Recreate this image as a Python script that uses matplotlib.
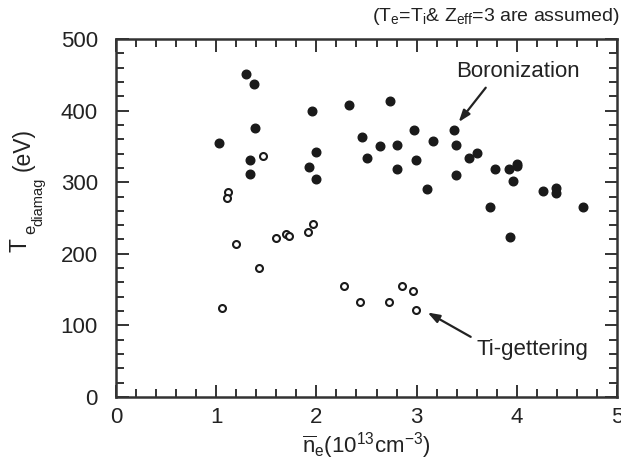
import matplotlib
matplotlib.use("Agg")
import matplotlib.pyplot as plt
from matplotlib.ticker import MultipleLocator

plt.rcParams['font.family'] = ['Liberation Sans', 'DejaVu Sans']
plt.rcParams['mathtext.fontset'] = 'custom'
plt.rcParams['mathtext.rm'] = 'Liberation Sans'
plt.rcParams['mathtext.it'] = 'Liberation Sans'
plt.rcParams['mathtext.bf'] = 'Liberation Sans:bold'

# Boronization (filled)
bor_x = [1.03, 1.30, 1.38, 1.39, 1.34, 1.34, 1.96, 2.00, 1.93, 2.00,
         2.33, 2.46, 2.73, 2.63, 2.50, 2.80, 2.80, 2.97, 2.99, 3.16,
         3.10, 3.37, 3.39, 3.39, 3.52, 3.60, 3.78, 3.73, 3.92, 4.00,
         4.00, 3.96, 4.26, 4.39, 4.39, 4.66, 3.93]
bor_y = [355, 451, 437, 376, 331, 312, 400, 342, 321, 305,
         408, 363, 414, 350, 334, 352, 318, 373, 331, 358,
         291, 373, 352, 310, 334, 341, 318, 266, 318, 326,
         322, 302, 288, 292, 285, 266, 224]

# Ti-gettering (open)
ti_x = [1.06, 1.12, 1.11, 1.20, 1.43, 1.47, 1.60, 1.70, 1.73, 1.92,
        1.97, 2.28, 2.44, 2.72, 2.85, 2.96, 2.99]
ti_y = [124, 286, 278, 214, 180, 337, 222, 228, 225, 230,
        241, 155, 132, 132, 155, 148, 121]

W, H = 621, 461
fig = plt.figure(figsize=(W / 100, H / 100), dpi=100)
ax = fig.add_axes([116/W, 1-397/H, (617-116)/W, (397-39)/H])

ink = '#222222'
ax.plot(bor_x, bor_y, 'o', color='#1a1a1a', ms=6.2, mec='#1a1a1a', zorder=3)
ax.plot(ti_x, ti_y, 'o', mfc='white', mec='#1a1a1a', ms=5.0, mew=1.5, zorder=3)

ax.set_xlim(0, 5)
ax.set_ylim(0, 500)
ax.xaxis.set_major_locator(MultipleLocator(1))
ax.xaxis.set_minor_locator(MultipleLocator(0.2))
ax.yaxis.set_major_locator(MultipleLocator(100))
ax.yaxis.set_minor_locator(MultipleLocator(20))
ax.tick_params(which='both', direction='in', top=True, right=True,
               width=1.4, color='#333333', labelsize=16, labelcolor=ink)
ax.tick_params(which='major', length=9)
ax.tick_params(axis='x', which='major', pad=7)
ax.tick_params(axis='y', which='major', pad=13)
ax.tick_params(which='minor', length=5.5)
for s in ax.spines.values():
    s.set_linewidth(1.8)
    s.set_color('#333333')

ax.set_xlabel(r'$\overline{\mathrm{n}}_{\mathrm{e}}\mathrm{(10^{13}cm^{-3})}$',
              fontsize=16, color=ink, labelpad=2)

# y label: T_e_diamag (eV), composed of rotated pieces
def ft(x, y, s, size):
    fig.text(x / W, 1 - y / H, s, rotation=90, ha='center', va='center',
             fontsize=size, color=ink)
ft(20, 245, 'T', 16.5)
ft(31, 229, 'e', 12)
ft(38, 202, 'diamag', 10.5)
ft(23, 149, '(eV)', 16.5)

fig.text(0.997, 0.965, r'(T$_{\mathrm{e}}$=T$_{\mathrm{i}}$& Z$_{\mathrm{eff}}$=3 are assumed)',
         ha='right', va='center', fontsize=14, color=ink)

arrow = dict(arrowstyle='-|>,head_length=0.7,head_width=0.25', color=ink, lw=1.6,
             shrinkA=0, shrinkB=0)
ax.annotate('', xy=(3.42, 384), xytext=(3.69, 432), arrowprops=arrow)
ax.text(3.39, 454, 'Boronization', fontsize=16, color=ink, va='center', ha='left')
ax.annotate('', xy=(3.11, 118), xytext=(3.54, 84), arrowprops=arrow)
ax.text(3.60, 66, 'Ti-gettering', fontsize=16, color=ink, va='center', ha='left')

fig.savefig('out.png', dpi=100)
